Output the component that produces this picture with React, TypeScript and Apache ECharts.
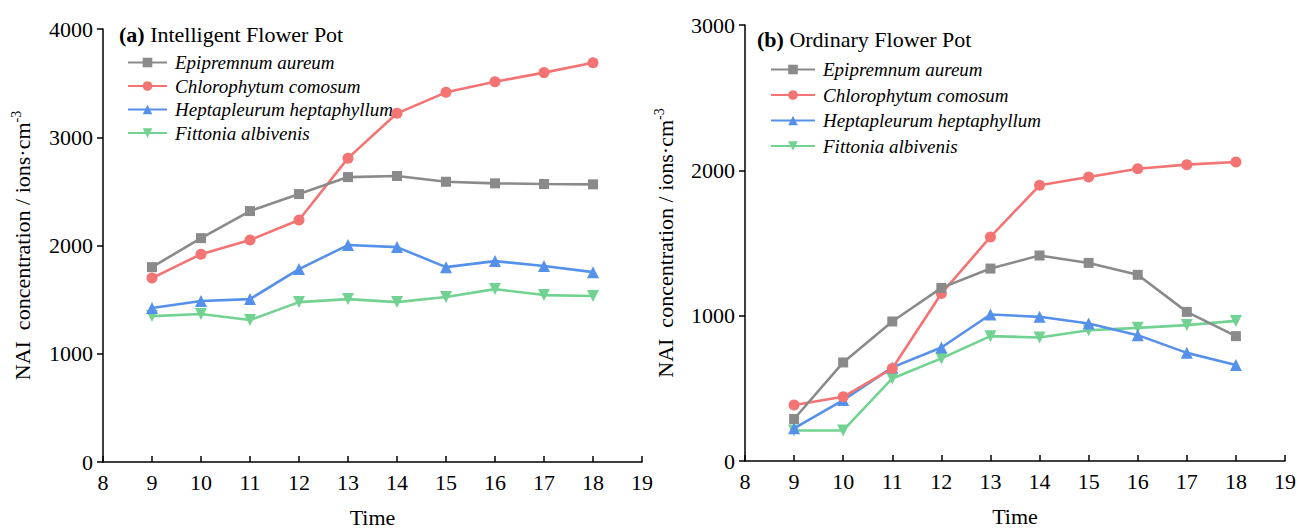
import React, { useEffect, useRef } from "react";
import * as echarts from "echarts";

const times = [9, 10, 11, 12, 13, 14, 15, 16, 17, 18];
const speciesNames = [
  "Epipremnum aureum",
  "Chlorophytum comosum",
  "Heptapleurum heptaphyllum",
  "Fittonia albivenis",
];

// (a) Intelligent Flower Pot
const aEpipremnum = [1800, 2068, 2318, 2475, 2632, 2642, 2589, 2574, 2568, 2565];
const aChlorophytum = [1699, 1920, 2050, 2235, 2807, 3221, 3415, 3513, 3597, 3689];
const aHeptapleurum = [1422, 1487, 1505, 1782, 2004, 1985, 1800, 1856, 1810, 1754];
const aFittonia = [1348, 1367, 1311, 1477, 1505, 1477, 1524, 1597, 1542, 1533];

// (b) Ordinary Flower Pot
const bEpipremnum = [289, 678, 960, 1191, 1324, 1414, 1363, 1281, 1026, 859];
const bChlorophytum = [385, 442, 637, 1152, 1542, 1897, 1954, 2011, 2039, 2057];
const bHeptapleurum = [225, 419, 644, 781, 1008, 992, 946, 866, 744, 660];
const bFittonia = [210, 210, 568, 706, 859, 850, 900, 916, 935, 964];

const xTicks = { min: 8, max: 19, interval: 1 };
const yTicksA = { min: 0, max: 4000, interval: 1000 };
const yTicksB = { min: 0, max: 3000, interval: 1000 };

const colors = ["#8a8a8a", "#f47373", "#5591ea", "#71d291"];
const symbols = [
  "rect",
  "circle",
  "triangle",
  "path://M0,0 L10,0 L5,9 Z",
];
const symbolSizes = [10, 11, 12, 12];

const FONT = "Liberation Serif";
const FS = 22;

export default function App() {
  const ref = useRef<HTMLDivElement>(null);
  useEffect(() => {
    document.body.style.margin = "0";
    const chart = echarts.init(ref.current!, null, { renderer: "svg" });
    const mk = (name: string, idx: number, data: number[], gi: number) => ({
      type: "line",
      name,
      xAxisIndex: gi,
      yAxisIndex: gi,
      data: times.map((t, i) => [t, data[i]]),
      symbol: symbols[idx],
      symbolSize: symbolSizes[idx],
      showSymbol: true,
      lineStyle: { width: 2.6, color: colors[idx] },
      itemStyle: { color: colors[idx] },
      z: 10 - idx,
    });
    const xAxis = (gi: number) => ({
      type: "value",
      gridIndex: gi,
      ...xTicks,
      name: "Time",
      nameLocation: "middle",
      nameGap: 44,
      nameTextStyle: { fontFamily: FONT, fontSize: FS, color: "#000" },
      axisLine: { lineStyle: { color: "#000", width: 1.5 } },
      axisTick: { inside: true, length: 6, lineStyle: { color: "#000", width: 1.5 } },
      axisLabel: { fontFamily: FONT, fontSize: FS, color: "#000", margin: 9 },
      splitLine: { show: false },
    });
    const yName = "{a|NAI  concentration / ions·cm}{s|-3}";
    const yAxis = (gi: number, ticks: any, gap: number) => ({
      type: "value",
      gridIndex: gi,
      ...ticks,
      name: yName,
      nameLocation: "middle",
      nameGap: gap,
      nameRotate: 90,
      nameTextStyle: {
        rich: {
          a: { fontFamily: FONT, fontSize: FS, color: "#000" },
          s: { fontFamily: FONT, fontSize: 14, color: "#000", verticalAlign: "top", padding: [0, 0, 12, 0] },
        },
      },
      axisLine: { show: true, lineStyle: { color: "#000", width: 1.5 } },
      axisTick: { show: true, inside: false, length: 6, lineStyle: { color: "#000", width: 1.5 } },
      axisLabel: {
        fontFamily: FONT, fontSize: FS, color: "#000", margin: 10,
        formatter: (v: number) => String(v),
      },
      splitLine: { show: false },
    });
    const legendStyle = {
      orient: "vertical",
      itemHeight: 12,
      textStyle: {
        fontFamily: FONT, fontSize: 19, fontStyle: "italic", color: "#000",
        padding: [0, 0, 0, 3],
      },
      data: speciesNames,
    };
    const titleStyle = {
      fontFamily: FONT, fontSize: FS, fontWeight: "normal", color: "#000",
      rich: {
        b: { fontFamily: FONT, fontSize: FS, fontWeight: "bold", color: "#000" },
        n: { fontFamily: FONT, fontSize: FS, color: "#000" },
      },
    };
    chart.setOption({
      animation: false,
      backgroundColor: "#fff",
      grid: [
        { left: 103, top: 29, width: 539, height: 433, outerBoundsMode: "none", containLabel: false },
        { left: 745, top: 25, width: 540, height: 436, outerBoundsMode: "none", containLabel: false },
      ],
      xAxis: [xAxis(0), xAxis(1)],
      yAxis: [yAxis(0, yTicksA, 68), yAxis(1, yTicksB, 67)],
      legend: [
        { ...legendStyle, left: 122, top: 48, itemWidth: 39, itemGap: 4.5 },
        { ...legendStyle, left: 765, top: 55, itemWidth: 44, itemGap: 6.5 },
      ],
      title: [
        { text: "{b|(a)}{n| Intelligent Flower Pot}", left: 114, top: 18, textStyle: titleStyle },
        { text: "{b|(b)}{n| Ordinary Flower Pot}", left: 752, top: 23, textStyle: titleStyle },
      ],
      series: [
        mk(speciesNames[0], 0, aEpipremnum, 0),
        mk(speciesNames[1], 1, aChlorophytum, 0),
        mk(speciesNames[2], 2, aHeptapleurum, 0),
        mk(speciesNames[3], 3, aFittonia, 0),
        mk(speciesNames[0], 0, bEpipremnum, 1),
        mk(speciesNames[1], 1, bChlorophytum, 1),
        mk(speciesNames[2], 2, bHeptapleurum, 1),
        mk(speciesNames[3], 3, bFittonia, 1),
      ],
    });
    return () => chart.dispose();
  }, []);
  return <div ref={ref} style={{ width: 1297, height: 529 }} />;
}
